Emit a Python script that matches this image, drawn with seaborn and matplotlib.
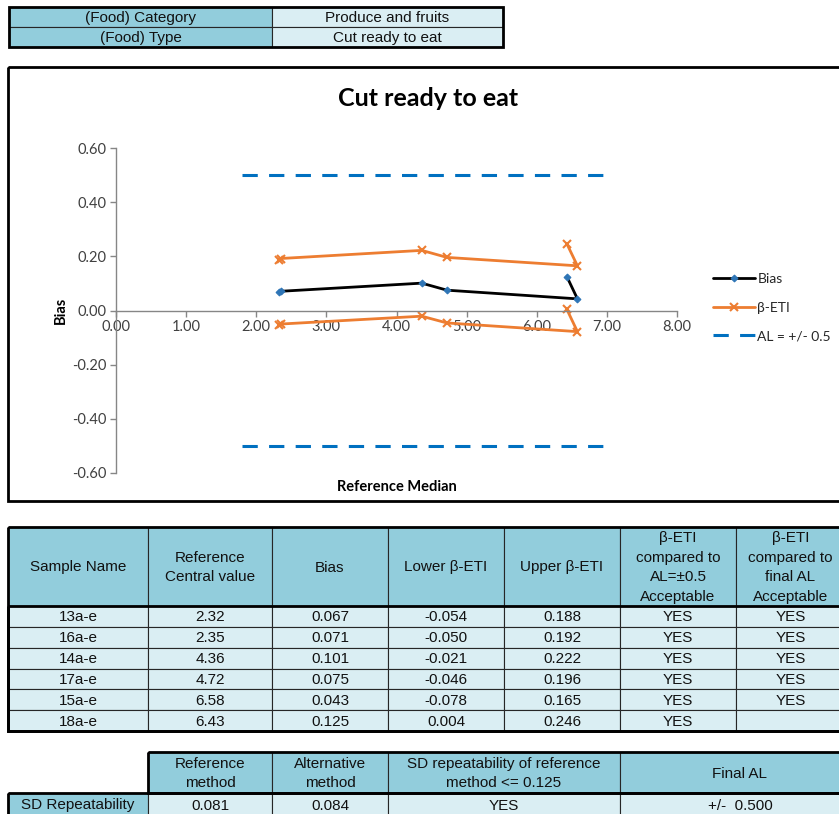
import matplotlib
matplotlib.use("Agg")
import matplotlib.pyplot as plt
from matplotlib.patches import Rectangle
import numpy as np
import seaborn as sns

sns.set_theme()
sns.set_style("ticks")
plt.rcParams['font.family'] = ['Lato', 'DejaVu Sans']

# ---- data ----
food_category = "Produce and fruits"
food_type = "Cut ready to eat"

sample_names = ["13a-e", "16a-e", "14a-e", "17a-e", "15a-e", "18a-e"]
ref_central = [2.32, 2.35, 4.36, 4.72, 6.58, 6.43]
bias = [0.067, 0.071, 0.101, 0.075, 0.043, 0.125]
lower_eti = [-0.054, -0.050, -0.021, -0.046, -0.078, 0.004]
upper_eti = [0.188, 0.192, 0.222, 0.196, 0.165, 0.246]
accept_al05 = ["YES", "YES", "YES", "YES", "YES", "YES"]
accept_final = ["YES", "YES", "YES", "YES", "YES", ""]

al_x = [1.8, 7.0]
al_limit = 0.5

x_ticks = [0, 1, 2, 3, 4, 5, 6, 7, 8]
y_ticks = [-0.6, -0.4, -0.2, 0.0, 0.2, 0.4, 0.6]

main_headers = ["Sample Name", "Reference\nCentral value", "Bias", "Lower β-ETI",
                "Upper β-ETI", "β-ETI\ncompared to\nAL=±0.5\nAcceptable",
                "β-ETI\ncompared to\nfinal AL\nAcceptable"]
sd_headers = ["Reference\nmethod", "Alternative\nmethod",
              "SD repeatability of reference\nmethod <= 0.125", "Final AL"]
sd_ref = 0.081
sd_alt = 0.084
sd_ok = "YES"
final_al = 0.500

# ---- layout ----
W, H = 839, 814
HEAD = '#92CDDC'
LIGHT = '#DAEEF3'
ORANGE = '#ED7D31'
TFONT = ['Liberation Sans', 'DejaVu Sans']
TFS = 11

fig = plt.figure(figsize=(W / 100, H / 100), dpi=100)
bg = fig.add_axes([0, 0, 1, 1], zorder=0)
bg.set_xlim(0, W)
bg.set_ylim(H, 0)
bg.axis('off')


def cell(x0, x1, y0, y1, text, fc):
    bg.add_patch(Rectangle((x0, y0), x1 - x0, y1 - y0, facecolor=fc,
                           edgecolor='#262626', lw=0.8))
    bg.text((x0 + x1) / 2, (y0 + y1) / 2 + 1, text, ha='center', va='center',
            fontsize=TFS, family=TFONT, color='#111111', linespacing=1.5)


def frame(x0, x1, y0, y1):
    bg.add_patch(Rectangle((x0, y0), x1 - x0, y1 - y0, fill=False,
                           edgecolor='black', lw=2, zorder=5))


# top info table
cell(9, 272, 7, 27, "(Food) Category", HEAD)
cell(272, 503, 7, 27, food_category, LIGHT)
cell(9, 272, 27, 47, "(Food) Type", HEAD)
cell(272, 503, 27, 47, food_type, LIGHT)
frame(9, 503, 7, 47)

# chart frame
frame(8, 850, 67, 501)

# main table
cols = [8, 148, 272, 388, 504, 620, 736, 845]
for i, h in enumerate(main_headers):
    cell(cols[i], cols[i + 1], 527, 606, h, HEAD)
row_h = (731 - 606) / len(sample_names)
for r in range(len(sample_names)):
    y0 = 606 + r * row_h
    vals = [sample_names[r], f"{ref_central[r]:.2f}", f"{bias[r]:.3f}",
            f"{lower_eti[r]:.3f}", f"{upper_eti[r]:.3f}", accept_al05[r], accept_final[r]]
    for i, v in enumerate(vals):
        cell(cols[i], cols[i + 1], y0, y0 + row_h, v, LIGHT)
frame(8, 845, 527, 731)
frame(8, 845, 606, 731)

# SD repeatability table
sd_cols = [148, 272, 388, 620, 860]
for i, h in enumerate(sd_headers):
    cell(sd_cols[i], sd_cols[i + 1], 752, 793, h, HEAD)
row_cols = [8] + sd_cols
row_vals = [f"{sd_ref:.3f}", f"{sd_alt:.3f}", sd_ok, f"+/-  {final_al:.3f}"]
cell(8, 148, 793, 816, "SD Repeatability", HEAD)
for i, v in enumerate(row_vals):
    cell(row_cols[i + 1], row_cols[i + 2], 793, 816, v, LIGHT)
frame(148, 860, 752, 793)
frame(8, 860, 793, 818)

# ---- chart ----
ax = fig.add_axes([116 / W, 1 - 473 / H, (677 - 116) / W, (473 - 148) / H], zorder=2)
ax.patch.set_alpha(0)

sns.lineplot(x=ref_central, y=bias, sort=False, errorbar=None, ax=ax,
             color='black', lw=2, marker='D', markersize=3.5,
             markerfacecolor='#2E75B6', markeredgecolor='#2E75B6', label='Bias')
sns.lineplot(x=ref_central, y=upper_eti, sort=False, errorbar=None, ax=ax,
             color=ORANGE, lw=2, marker='x', markersize=6, markeredgewidth=1.5,
             markeredgecolor=ORANGE, label='β-ETI')
sns.lineplot(x=ref_central, y=lower_eti, sort=False, errorbar=None, ax=ax,
             color=ORANGE, lw=2, marker='x', markersize=6, markeredgewidth=1.5,
             markeredgecolor=ORANGE, label='_nolegend_')
sns.lineplot(x=al_x, y=[al_limit, al_limit], errorbar=None, ax=ax,
             color='#0070C0', lw=2.2, linestyle=(0, (5, 3.7)), label='AL = +/- 0.5')
sns.lineplot(x=al_x, y=[-al_limit, -al_limit], errorbar=None, ax=ax,
             color='#0070C0', lw=2.2, linestyle=(0, (5, 3.7)), label='_nolegend_')

ax.set_xlim(0, 8)
ax.set_ylim(-0.6, 0.6)
ax.set_xticks(x_ticks)
ax.set_xticklabels([f"{v:.2f}" for v in x_ticks])
ax.set_yticks(y_ticks)
ax.set_yticklabels([f"{v:.2f}" for v in y_ticks])
ax.spines['bottom'].set_position(('data', 0))
for s in ['top', 'right']:
    ax.spines[s].set_visible(False)
for s in ['left', 'bottom']:
    ax.spines[s].set_color('#868686')
    ax.spines[s].set_linewidth(1)
ax.tick_params(direction='out', length=4, width=1, color='#868686',
               labelcolor='#404040', labelsize=10.5, pad=3)

ax.set_xlabel('Reference Median', fontsize=10.5, fontweight='bold', color='black')
ax.xaxis.label.set_va('center')
ax.xaxis.set_label_coords(0.5, -0.043)
ax.set_ylabel('Bias', fontsize=10.5, fontweight='bold', color='black')
ax.yaxis.set_label_coords(-0.086, 0.5)

handles, labels = ax.get_legend_handles_labels()
ax.legend(handles, labels, loc='upper left', bbox_to_anchor=(713 / W, 1 - 273 / H),
          bbox_transform=fig.transFigure, frameon=False, fontsize=10,
          handlelength=3.0, handletextpad=0.2, labelspacing=1.2,
          borderpad=0, borderaxespad=0)

fig.text(428 / W, 1 - 98 / H, "Cut ready to eat", ha='center', va='center',
         fontsize=18, fontweight='bold', color='black')

fig.savefig('out.png', dpi=100)
